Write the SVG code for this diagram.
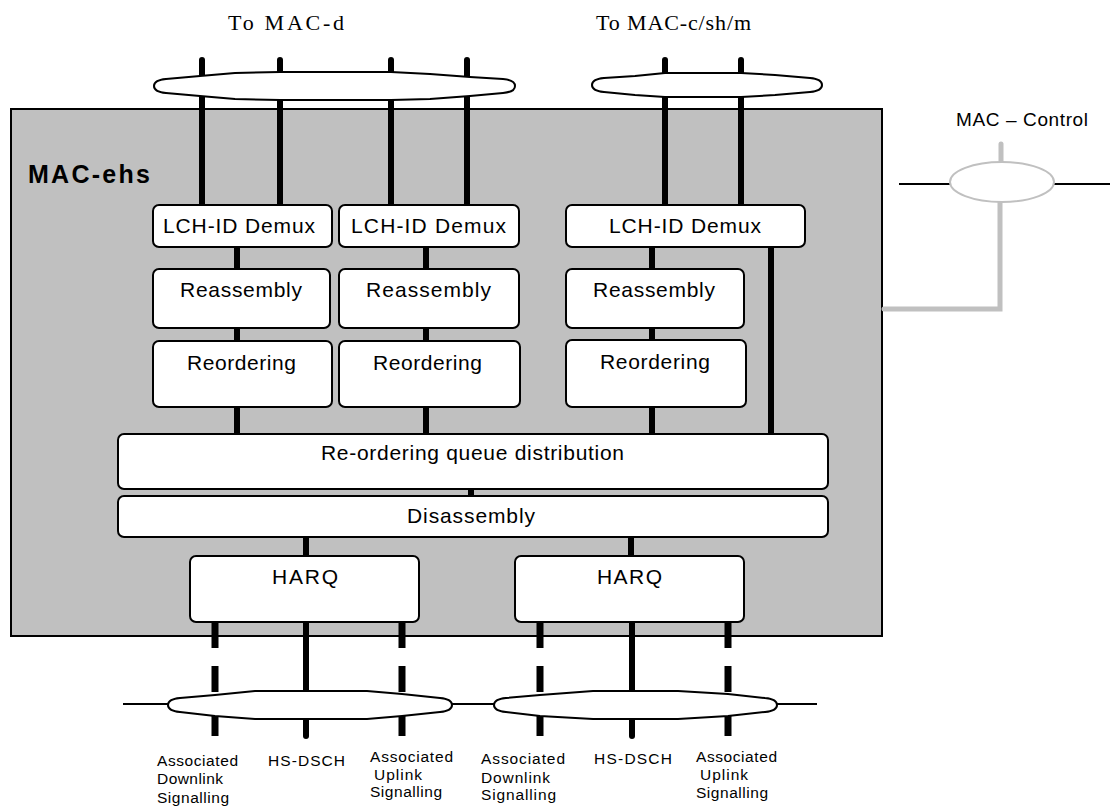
<svg xmlns="http://www.w3.org/2000/svg" width="1116" height="810" viewBox="0 0 1116 810">
<style>
.box{fill:#fff;stroke:#000;stroke-width:2}
.t{font-family:"Liberation Sans",Arial,sans-serif;font-size:21px;fill:#000}
.s{font-family:"Liberation Sans",Arial,sans-serif;font-size:15.5px;fill:#000}
.ser{font-family:"Liberation Serif","Times New Roman",serif;font-size:22px;fill:#000}
.th{stroke:#000;stroke-width:6;fill:none;stroke-linecap:round}
.thb{stroke:#000;stroke-width:6;fill:none}
.dash{stroke:#000;stroke-width:7;fill:none;stroke-dasharray:26 18}
.thin{stroke:#000;stroke-width:2;fill:none}
.cloud{fill:#fff;stroke:#000;stroke-width:2;stroke-linejoin:round}
.gray{stroke:#c0c0c0;stroke-width:5;fill:none;stroke-linecap:round}
</style>
<text class="ser" x="228" y="30" textLength="116" lengthAdjust="spacing">To MAC-d</text>
<text class="ser" x="596" y="30" textLength="155" lengthAdjust="spacing">To MAC-c/sh/m</text>
<g id="mac-ehs">
<rect x="11" y="109" width="871" height="527" fill="#c0c0c0" stroke="#000" stroke-width="2"/>
<text x="28" y="183" font-family="Liberation Sans,Arial,sans-serif" font-size="25" font-weight="bold" textLength="122" lengthAdjust="spacing">MAC-ehs</text>
</g>
<g id="connectors">
<line class="th" x1="202" y1="60" x2="202" y2="206"/>
<line class="th" x1="280" y1="60" x2="280" y2="206"/>
<line class="th" x1="391" y1="60" x2="391" y2="206"/>
<line class="th" x1="467" y1="60" x2="467" y2="206"/>
<line class="th" x1="665" y1="60" x2="665" y2="206"/>
<line class="th" x1="741" y1="60" x2="741" y2="206"/>
<line class="thb" x1="237" y1="246" x2="237" y2="436"/>
<line class="thb" x1="426" y1="246" x2="426" y2="436"/>
<line class="thb" x1="652" y1="246" x2="652" y2="436"/>
<line class="thb" x1="771" y1="246" x2="771" y2="436"/>
<line class="thb" x1="471" y1="488" x2="471" y2="497"/>
<line class="thb" x1="306" y1="536" x2="306" y2="556"/>
<line class="thb" x1="631" y1="536" x2="631" y2="556"/>
<line class="dash" x1="215" y1="622" x2="215" y2="736"/>
<line class="th" x1="306" y1="622" x2="306" y2="736"/>
<line class="dash" x1="402" y1="622" x2="402" y2="736"/>
<line class="dash" x1="540" y1="622" x2="540" y2="736"/>
<line class="th" x1="632" y1="622" x2="632" y2="736"/>
<line class="dash" x1="728" y1="622" x2="728" y2="736"/>
<line class="thin" x1="123" y1="704" x2="170" y2="704"/>
<line class="thin" x1="450" y1="704" x2="496" y2="704"/>
<line class="thin" x1="775" y1="704" x2="817" y2="704"/>
<line class="thin" x1="899" y1="184" x2="952" y2="184"/>
<line class="thin" x1="1052" y1="184" x2="1110" y2="184"/>
<polyline class="gray" points="1001,144 1001,164"/>
<polyline class="gray" points="1000,200 1000,309 884,309" stroke-linecap="butt"/>
</g>
<g id="cloud-mac-d">
<path class="cloud" d="M154,86 Q154,80 166,79 L200,76 L235,73 L280,72 L391,72 L430,74 L470,77 L503,79 Q515,80 515,86 Q515,92 503,93 L470,96 L430,99 L391,100 L280,100 L235,99 L200,96 L166,93 Q154,92 154,86 Z"/>
</g>
<g id="cloud-mac-c">
<path class="cloud" d="M592,85 Q592,79 604,78 L635,76 L665,73 L741,73 L775,75 L810,78 Q822,79 822,85 Q822,91 810,92 L775,95 L741,97 L665,97 L635,95 L604,92 Q592,91 592,85 Z"/>
</g>
<g id="cloud-control">
<ellipse cx="1002" cy="182" rx="52" ry="20" fill="#fff" stroke="#c0c0c0" stroke-width="2"/>
<text x="956" y="126" font-family="Liberation Sans,Arial,sans-serif" font-size="19" textLength="132" lengthAdjust="spacing">MAC – Control</text>
</g>
<g id="cloud-bottom-1">
<path class="cloud" d="M168,705 Q168,699 180,698 L215,695 L255,691 L367,691 L402,694 L440,698 Q452,699 452,705 Q452,711 440,712 L402,716 L367,719 L255,719 L215,716 L180,712 Q168,711 168,705 Z"/>
</g>
<g id="cloud-bottom-2">
<path class="cloud" d="M494,705 Q494,699 506,698 L540,695 L593,691 L678,691 L728,694 L765,698 Q777,699 777,705 Q777,711 765,712 L728,716 L678,719 L593,719 L540,716 L506,712 Q494,711 494,705 Z"/>
</g>
<g id="lch1"><rect class="box" x="153" y="205" width="179" height="42" rx="6"/><text class="t" x="163" y="233" textLength="152" lengthAdjust="spacing">LCH-ID Demux</text></g>
<g id="lch2"><rect class="box" x="339" y="205" width="180" height="42" rx="6"/><text class="t" x="351" y="233" textLength="155" lengthAdjust="spacing">LCH-ID Demux</text></g>
<g id="lch3"><rect class="box" x="566" y="205" width="239" height="42" rx="6"/><text class="t" x="609" y="233" textLength="152" lengthAdjust="spacing">LCH-ID Demux</text></g>
<g id="reas1"><rect class="box" x="153" y="269" width="177" height="59" rx="6"/><text class="t" x="180" y="297" textLength="122" lengthAdjust="spacing">Reassembly</text></g>
<g id="reas2"><rect class="box" x="339" y="269" width="180" height="59" rx="6"/><text class="t" x="366" y="297" textLength="125" lengthAdjust="spacing">Reassembly</text></g>
<g id="reas3"><rect class="box" x="566" y="269" width="178" height="59" rx="6"/><text class="t" x="593" y="297" textLength="122" lengthAdjust="spacing">Reassembly</text></g>
<g id="reord1"><rect class="box" x="153" y="341" width="179" height="66" rx="6"/><text class="t" x="187" y="370" textLength="109" lengthAdjust="spacing">Reordering</text></g>
<g id="reord2"><rect class="box" x="339" y="341" width="181" height="66" rx="6"/><text class="t" x="373" y="370" textLength="109" lengthAdjust="spacing">Reordering</text></g>
<g id="reord3"><rect class="box" x="566" y="340" width="180" height="67" rx="6"/><text class="t" x="600" y="369" textLength="110" lengthAdjust="spacing">Reordering</text></g>
<g id="distribution"><rect class="box" x="118" y="434" width="710" height="55" rx="6"/><text class="t" x="321" y="460" textLength="303" lengthAdjust="spacing">Re-ordering queue distribution</text></g>
<g id="disassembly"><rect class="box" x="118" y="496" width="710" height="41" rx="6"/><text class="t" x="407" y="523" textLength="128" lengthAdjust="spacing">Disassembly</text></g>
<g id="harq1"><rect class="box" x="190" y="556" width="229" height="66" rx="6"/><text class="t" x="272" y="584" textLength="66" lengthAdjust="spacing">HARQ</text></g>
<g id="harq2"><rect class="box" x="515" y="556" width="229" height="66" rx="6"/><text class="t" x="597" y="584" textLength="65" lengthAdjust="spacing">HARQ</text></g>
<g id="labels">
<text class="s" x="157" y="766" textLength="81" lengthAdjust="spacing">Associated</text>
<text class="s" x="157" y="784" textLength="66" lengthAdjust="spacing">Downlink</text>
<text class="s" x="157" y="803" textLength="72" lengthAdjust="spacing">Signalling</text>
<text class="s" x="268" y="766" textLength="77" lengthAdjust="spacing">HS-DSCH</text>
<text class="s" x="370" y="762" textLength="83" lengthAdjust="spacing">Associated</text>
<text class="s" x="374" y="780" textLength="48" lengthAdjust="spacing">Uplink</text>
<text class="s" x="370" y="797" textLength="72" lengthAdjust="spacing">Signalling</text>
<text class="s" x="481" y="764" textLength="84" lengthAdjust="spacing">Associated</text>
<text class="s" x="481" y="783" textLength="69" lengthAdjust="spacing">Downlink</text>
<text class="s" x="481" y="800" textLength="75" lengthAdjust="spacing">Signalling</text>
<text class="s" x="594" y="764" textLength="78" lengthAdjust="spacing">HS-DSCH</text>
<text class="s" x="696" y="762" textLength="81" lengthAdjust="spacing">Associated</text>
<text class="s" x="700" y="780" textLength="48" lengthAdjust="spacing">Uplink</text>
<text class="s" x="696" y="798" textLength="72" lengthAdjust="spacing">Signalling</text>
</g>
</svg>
